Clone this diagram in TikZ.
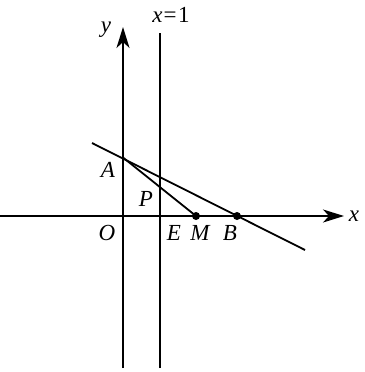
\documentclass[tikz,border=0pt]{standalone}
\usepackage{fontspec}
\setmainfont{Liberation Serif}
\usetikzlibrary{arrows.meta}
\begin{document}
\begin{tikzpicture}[x=1pt,y=-1pt,
  ln/.style={line width=1.8pt},
  axis/.style={line width=1.8pt,-{Stealth[length=21pt,width=13pt,inset=6pt]}},
  lbl/.style={font=\fontsize{23}{23}\selectfont\itshape,inner sep=0pt},
  dot/.style={circle,fill=black,inner sep=0pt,minimum size=8pt}]
\useasboundingbox (0,0) rectangle (364,372);
\coordinate (xs) at (0,216);
\coordinate (xe) at (344,216);
\coordinate (ys) at (123,368);
\coordinate (ye) at (123,27);
\coordinate (ls) at (160,368);
\coordinate (le) at (160,33);
\coordinate (A) at (123,157.5);
\coordinate (L1) at (92,143);
\coordinate (L2) at (305,250);
\node[dot] (M) at (196,216) {};
\node[dot] (B) at (237,216) {};
\draw[axis] (xs) -- (xe);
\draw[axis] (ys) -- (ye);
\draw[ln] (ls) -- (le);
\draw[ln] (L1) -- (L2);
\draw[ln] (A) -- (M.center);
\node[lbl] (ly) at (106,30) {y};
\node[lbl] (lx) at (354,216) {x};
\node[lbl,anchor=base] (l1) at (171,23) {x\kern1pt\upshape{=}\kern1.5pt1};
\node[lbl] (lA) at (108,170) {A};
\node[lbl] (lP) at (146,199) {P};
\node[lbl] (lO) at (107,233) {O};
\node[lbl] (lE) at (174,233) {E};
\node[lbl] (lM) at (200,233) {M};
\node[lbl] (lB) at (230,233) {B};
\end{tikzpicture}
\end{document}
